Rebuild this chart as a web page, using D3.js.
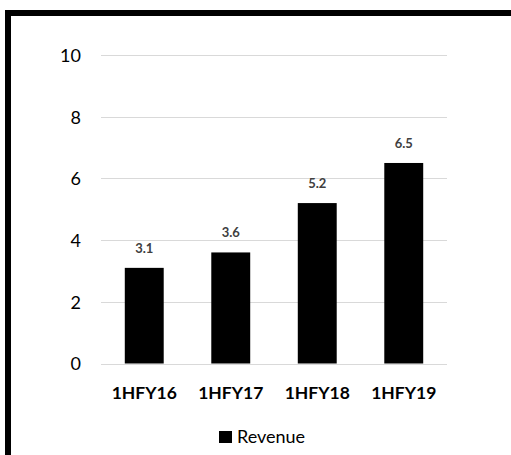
<!DOCTYPE html>
<html>
<head>
<meta charset="utf-8">
<script src="https://cdn.jsdelivr.net/npm/d3@7"></script>
<style>
  html, body { margin: 0; padding: 0; background: #fff; }
  svg { display: block; }
</style>
</head>
<body>
<svg id="chart" width="511" height="455"></svg>
<script>
// Half-year revenue
const categories = ["1HFY16", "1HFY17", "1HFY18", "1HFY19"];
const revenue = [3.1, 3.6, 5.2, 6.5];
const yTicks = [0, 2, 4, 6, 8, 10];
const seriesName = "Revenue";

const svg = d3.select("#chart");
const W = 511, H = 455;
const font = "Lato, 'Open Sans', sans-serif";

svg.append("rect").attr("width", W).attr("height", H).attr("fill", "#fff");

// Frame around the chart area
svg.append("rect")
  .attr("x", 8).attr("y", 13)
  .attr("width", W + 20).attr("height", H + 20)
  .attr("fill", "none")
  .attr("stroke", "#000")
  .attr("stroke-width", 6);

const plot = { left: 101, right: 447, top: 55, bottom: 363.5 };

const x = d3.scaleBand()
  .domain(categories)
  .range([plot.left, plot.right])
  .paddingInner(0.55)
  .paddingOuter(0.275);

const y = d3.scaleLinear()
  .domain([0, 10])
  .range([plot.bottom, plot.top]);

// Gridlines
svg.append("g")
  .selectAll("line")
  .data(yTicks)
  .join("line")
  .attr("x1", plot.left).attr("x2", plot.right)
  .attr("y1", d => Math.round(y(d)) + 0.5)
  .attr("y2", d => Math.round(y(d)) + 0.5)
  .attr("stroke", "#d9d9d9")
  .attr("stroke-width", 1);

// Y axis labels
const yAxis = d3.axisLeft(y).tickValues(yTicks).tickSize(0).tickPadding(0);
const yg = svg.append("g")
  .attr("transform", `translate(${81},0)`)
  .call(yAxis);
yg.select(".domain").remove();
yg.selectAll("text")
  .attr("dy", "0.36em")
  .attr("font-family", font)
  .attr("font-size", 18)
  .attr("fill", "#000");

// Bars
svg.append("g")
  .selectAll("rect")
  .data(revenue)
  .join("rect")
  .attr("x", (d, i) => x(categories[i]))
  .attr("width", x.bandwidth())
  .attr("y", d => y(d))
  .attr("height", d => y(0) - y(d))
  .attr("fill", "#000");

// Value labels
svg.append("g")
  .selectAll("text")
  .data(revenue)
  .join("text")
  .attr("x", (d, i) => x(categories[i]) + x.bandwidth() / 2)
  .attr("y", d => y(d) - 15)
  .attr("text-anchor", "middle")
  .attr("font-family", font)
  .attr("font-size", 13)
  .attr("font-weight", "bold")
  .attr("fill", "#404040")
  .text(d => d.toFixed(1));

// Category labels
const xAxis = d3.axisBottom(x).tickSize(0).tickPadding(0);
const xg = svg.append("g")
  .attr("transform", `translate(0,${399})`)
  .call(xAxis);
xg.select(".domain").remove();
xg.selectAll("text")
  .attr("dy", 0)
  .attr("font-family", font)
  .attr("font-size", 17.5)
  .attr("font-weight", "bold")
  .attr("fill", "#000");

// Legend
const legend = svg.append("g").attr("transform", "translate(219,431)");
legend.append("rect").attr("width", 13).attr("height", 12).attr("fill", "#000");
legend.append("text")
  .attr("x", 18).attr("y", 12)
  .attr("font-family", font)
  .attr("font-size", 18)
  .attr("fill", "#000")
  .text(seriesName);
</script>
</body>
</html>
